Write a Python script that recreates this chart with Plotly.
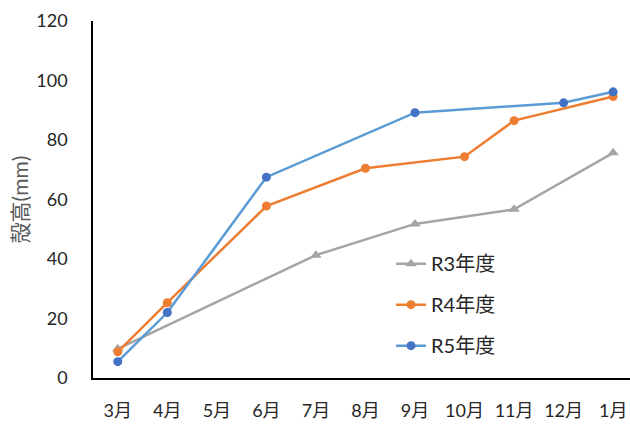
import plotly.graph_objects as go

# Months on the category axis
months = ["3月", "4月", "5月", "6月", "7月", "8月", "9月", "10月", "11月", "12月", "1月"]

# Shell height (mm) per survey month; None where no survey took place
r3_values = [9.8, None, None, None, 41.3, None, 51.8, None, 56.7, None, 75.7]
r4_values = [8.8, 25.3, None, 57.8, None, 70.5, None, 74.4, 86.5, None, 94.6]
r5_values = [5.5, 22.0, None, 67.5, None, None, 89.2, None, None, 92.5, 96.2]

y_ticks = [0, 20, 40, 60, 80, 100, 120]

FONT = "Lato, 'Noto Sans CJK JP', sans-serif"

fig = go.Figure()

fig.add_trace(go.Scatter(
    x=months, y=r3_values, name="R3年度", mode="lines+markers",
    connectgaps=True, legendgroup="r3",
    line=dict(color="#A5A5A5", width=2.5),
    marker=dict(symbol="triangle-up", size=10, color="#A5A5A5"),
))
fig.add_trace(go.Scatter(
    x=months, y=r4_values, name="R4年度", mode="lines+markers",
    connectgaps=True, legendgroup="r4",
    line=dict(color="#ED7D31", width=2.5),
    marker=dict(symbol="circle", size=9, color="#ED7D31"),
))
fig.add_trace(go.Scatter(
    x=months, y=r5_values, name="R5年度", mode="lines+markers",
    connectgaps=True, legendgroup="r5",
    line=dict(color="#5B9BD5", width=2.5),
    marker=dict(symbol="circle", size=9, color="#4472C4"),
))

fig.update_layout(
    width=630, height=424,
    margin=dict(l=93, r=0, t=21, b=46),
    paper_bgcolor="white", plot_bgcolor="white",
    font=dict(family=FONT, size=18, color="#262626"),
    showlegend=True,
    legend=dict(
        x=0.555, y=0.375, xanchor="left", yanchor="top",
        bgcolor="rgba(0,0,0,0)", traceorder="grouped", tracegroupgap=12,
        font=dict(family=FONT, size=20, color="#262626"),
    ),
    xaxis=dict(
        type="category", categoryorder="array", categoryarray=months,
        range=[-0.5, 10.34],
        showline=True, linecolor="#000000", linewidth=1.5,
        showgrid=False, ticks="", ticklabelstandoff=16,
        tickfont=dict(family=FONT, size=18, color="#262626"),
    ),
    yaxis=dict(
        range=[0, 120], tickvals=y_ticks,
        showline=True, linecolor="#000000", linewidth=1.5,
        showgrid=False, zeroline=False, ticks="", ticklabelstandoff=20,
        tickfont=dict(family=FONT, size=18, color="#262626"),
        title=dict(text="殻高(mm)", standoff=2,
                   font=dict(family=FONT, size=21, color="#595959")),
    ),
)

fig.write_html("out.html")
